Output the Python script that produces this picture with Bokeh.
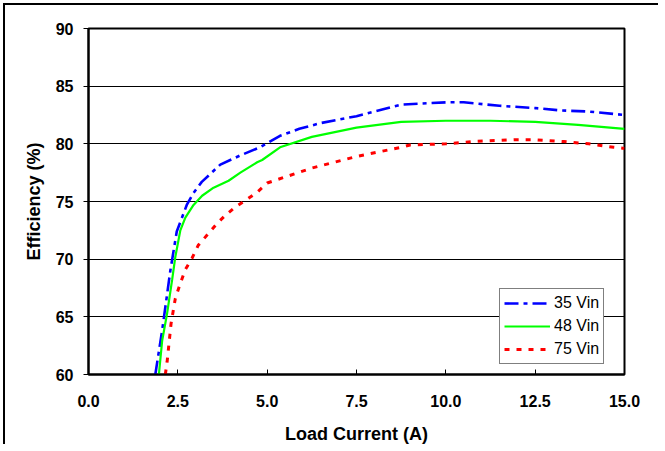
from bokeh.plotting import figure
from bokeh.models import Range1d, FixedTicker, Legend, LegendItem
from bokeh.embed import file_html
from bokeh.resources import INLINE

load_35 = [1.87, 2.06, 2.29, 2.47, 2.75, 2.93, 3.17, 3.69, 4.25, 4.8, 5.36, 5.9, 6.5, 7.5, 8.75, 10.0, 10.5, 11.5, 12.5, 13.2, 14.0, 15.0]
eff_35 = [60.0, 63.8, 69.0, 72.4, 74.7, 75.7, 76.7, 78.2, 79.0, 79.7, 80.7, 81.3, 81.8, 82.4, 83.4, 83.6, 83.6, 83.3, 83.1, 82.9, 82.8, 82.5]

load_48 = [1.97, 2.06, 2.2, 2.34, 2.43, 2.57, 2.71, 2.94, 3.18, 3.5, 3.92, 4.25, 4.72, 4.86, 5.36, 6.25, 7.5, 8.75, 10.0, 11.25, 12.5, 13.7, 15.0]
eff_48 = [60.0, 62.9, 65.3, 68.2, 70.2, 72.5, 73.6, 74.7, 75.5, 76.2, 76.8, 77.5, 78.4, 78.6, 79.7, 80.6, 81.4, 81.9, 82.0, 82.0, 81.9, 81.65, 81.3]

load_75 = [2.15, 2.2, 2.31, 2.43, 2.57, 2.71, 2.9, 3.07, 3.35, 3.6, 3.83, 4.1, 4.39, 4.72, 5.0, 6.25, 7.5, 8.75, 9.0, 10.0, 10.75, 11.9, 12.5, 13.3, 14.0, 14.7, 15.0]
eff_75 = [60.0, 61.1, 64.4, 66.6, 67.9, 69.1, 70.1, 71.2, 72.2, 73.1, 73.8, 74.5, 75.1, 75.8, 76.6, 77.9, 78.9, 79.7, 79.9, 80.0, 80.2, 80.35, 80.35, 80.2, 80.0, 79.7, 79.6]

x_ticks = [0.0, 2.5, 5.0, 7.5, 10.0, 12.5, 15.0]
y_ticks = [60, 65, 70, 75, 80, 85, 90]
series_names = ["35 Vin", "48 Vin", "75 Vin"]

FONT = "Liberation Sans"

p = figure(width=655, height=441, output_backend="svg", toolbar_location=None,
           x_range=Range1d(0, 15), y_range=Range1d(60, 90),
           min_border_left=83, min_border_right=36, min_border_top=23, min_border_bottom=72)
p.styles = {"border-top": "2px solid black", "border-left": "2px solid black",
            "margin-left": "3px", "margin-top": "3px"}

p.outline_line_color = "black"
p.outline_line_width = 2
p.background_fill_color = "white"
p.border_fill_color = "white"

p.xgrid.visible = False
p.ygrid.grid_line_color = "black"
p.ygrid.grid_line_width = 1
p.ygrid.ticker = FixedTicker(ticks=y_ticks)

p.xaxis.ticker = FixedTicker(ticks=x_ticks)
p.xaxis.major_label_overrides = {t: f"{t:.1f}" for t in x_ticks}
p.yaxis.ticker = FixedTicker(ticks=y_ticks)

for ax in (p.xaxis[0], p.yaxis[0]):
    ax.axis_line_color = "black"
    ax.axis_line_width = 2
    ax.major_tick_line_color = "black"
    ax.minor_tick_line_color = None
    ax.major_label_text_font = FONT
    ax.major_label_text_font_style = "bold"
    ax.major_label_text_font_size = "16px"
    ax.major_label_text_color = "black"
    ax.axis_label_text_font = FONT
    ax.axis_label_text_font_style = "bold"
    ax.axis_label_text_font_size = "18px"
    ax.axis_label_text_color = "black"

p.xaxis.major_tick_in = 5
p.xaxis.major_tick_out = 0
p.xaxis.major_label_standoff = 20
p.xaxis.axis_label = "Load Current (A)"
p.xaxis.axis_label_standoff = 14

p.yaxis.major_tick_in = 0
p.yaxis.major_tick_out = 5
p.yaxis.major_label_standoff = 10
p.yaxis.axis_label = "Efficiency (%)"
p.yaxis.axis_label_standoff = 9

r1 = p.line(load_35, eff_35, line_color="#0000FF", line_width=2.6, line_dash="14 5 4 5")
r2 = p.line(load_48, eff_48, line_color="#00FF00", line_width=2.2)
r3 = p.line(load_75, eff_75, line_color="#FF0000", line_width=3, line_dash="5 7")

legend = Legend(items=[LegendItem(label=series_names[0], renderers=[r1]),
                       LegendItem(label=series_names[1], renderers=[r2]),
                       LegendItem(label=series_names[2], renderers=[r3])],
                location=(411, 10))
legend.border_line_color = "black"
legend.border_line_width = 1
legend.background_fill_color = "white"
legend.background_fill_alpha = 1
legend.label_text_font = FONT
legend.label_text_font_size = "16px"
legend.label_text_color = "black"
legend.glyph_width = 46
legend.glyph_height = 20
legend.label_standoff = 4
legend.spacing = 3
legend.padding = 4
legend.margin = 0
legend.label_height = 20
p.add_layout(legend, "center")

open("out.html", "w").write(file_html(p, INLINE))
